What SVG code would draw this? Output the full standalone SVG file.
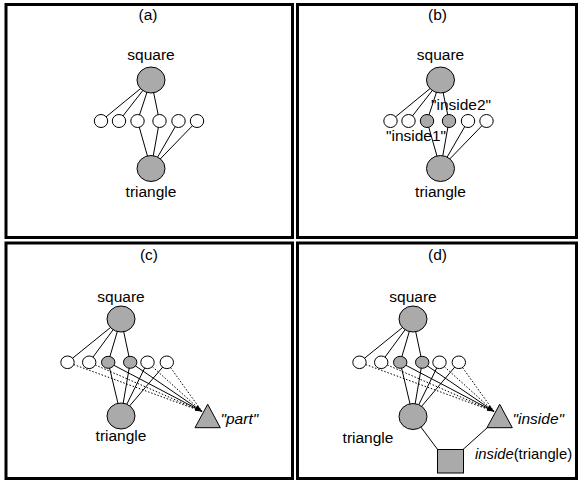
<svg xmlns="http://www.w3.org/2000/svg" width="579" height="480" viewBox="0 0 579 480">
<style>
.frame{fill:none;stroke:#000;stroke-width:3}
.big{fill:#aaaaaa;stroke:#000;stroke-width:1}
.sm{fill:#fff;stroke:#000;stroke-width:1}
.smg{fill:#aaaaaa;stroke:#000;stroke-width:1}
.ln{stroke:#000;stroke-width:1;fill:none}
.dt{stroke:#000;stroke-width:1;fill:none;stroke-dasharray:1.5 1.8}
text{font-family:"Liberation Sans",Arial,Helvetica,sans-serif;font-size:15.5px;fill:#000}
.c{text-anchor:middle}
.it{font-style:italic}
.fn{font-size:14.8px}
</style>
<defs>
<marker id="ah" viewBox="0 0 10 10" refX="10" refY="5" markerWidth="7" markerHeight="7" markerUnits="userSpaceOnUse" orient="auto">
<path d="M0,1 L10,5 L0,9 Z" fill="#000"/>
</marker>
</defs>
<rect width="579" height="480" fill="#fff"/>
<g id="frames">
<rect class="frame" x="6" y="4.5" width="286.5" height="233"/>
<rect class="frame" x="297.5" y="4.5" width="279" height="233"/>
<rect class="frame" x="6" y="243" width="286.5" height="235.5"/>
<rect class="frame" x="297.5" y="243" width="279" height="235.5"/>
</g>

<!-- Panel a -->
<g id="panel-a">
<text class="c" x="148" y="20">(a)</text>
<g id="a-connectors">
<line class="ln" x1="151" y1="80" x2="101" y2="121"/>
<line class="ln" x1="151" y1="80" x2="119" y2="121"/>
<line class="ln" x1="151" y1="80" x2="137.5" y2="121"/>
<line class="ln" x1="151" y1="80" x2="159.5" y2="121"/>
<line class="ln" x1="137.5" y1="121" x2="151" y2="168.5"/>
<line class="ln" x1="159.5" y1="121" x2="151" y2="168.5"/>
<line class="ln" x1="178.5" y1="121" x2="151" y2="168.5"/>
<line class="ln" x1="197" y1="121" x2="151" y2="168.5"/>
</g>
<g id="a-square"><ellipse class="big" cx="151" cy="80" rx="14" ry="13"/><text class="c" x="151" y="60">square</text></g>
<g id="a-triangle"><ellipse class="big" cx="151" cy="168.5" rx="14" ry="13"/><text class="c" x="151" y="197">triangle</text></g>
<g id="a-n1"><ellipse class="sm" cx="101" cy="121" rx="6.7" ry="6.5"/></g>
<g id="a-n2"><ellipse class="sm" cx="119" cy="121" rx="6.7" ry="6.5"/></g>
<g id="a-n3"><ellipse class="sm" cx="137.5" cy="121" rx="6.7" ry="6.5"/></g>
<g id="a-n4"><ellipse class="sm" cx="159.5" cy="121" rx="6.7" ry="6.5"/></g>
<g id="a-n5"><ellipse class="sm" cx="178.5" cy="121" rx="6.7" ry="6.5"/></g>
<g id="a-n6"><ellipse class="sm" cx="197" cy="121" rx="6.7" ry="6.5"/></g>
</g>

<!-- Panel b -->
<g id="panel-b">
<text class="c" x="437.5" y="20">(b)</text>
<g id="b-connectors">
<line class="ln" x1="440.5" y1="80" x2="390.5" y2="121"/>
<line class="ln" x1="440.5" y1="80" x2="408.5" y2="121"/>
<line class="ln" x1="440.5" y1="80" x2="427" y2="121"/>
<line class="ln" x1="440.5" y1="80" x2="449" y2="121"/>
<line class="ln" x1="427" y1="121" x2="440.5" y2="168.5"/>
<line class="ln" x1="449" y1="121" x2="440.5" y2="168.5"/>
<line class="ln" x1="468" y1="121" x2="440.5" y2="168.5"/>
<line class="ln" x1="486.5" y1="121" x2="440.5" y2="168.5"/>
</g>
<g id="b-square"><ellipse class="big" cx="440.5" cy="80" rx="14" ry="13"/><text class="c" x="440.5" y="60">square</text></g>
<g id="b-triangle"><ellipse class="big" cx="440.5" cy="168.5" rx="14" ry="13"/><text class="c" x="440.5" y="197">triangle</text></g>
<g id="b-n1"><ellipse class="sm" cx="390.5" cy="121" rx="6.7" ry="6.5"/></g>
<g id="b-n2"><ellipse class="sm" cx="408.5" cy="121" rx="6.7" ry="6.5"/></g>
<g id="b-n3"><ellipse class="smg" cx="427" cy="121" rx="6.7" ry="6.5"/></g>
<g id="b-n4"><ellipse class="smg" cx="449" cy="121" rx="6.7" ry="6.5"/></g>
<g id="b-n5"><ellipse class="sm" cx="468" cy="121" rx="6.7" ry="6.5"/></g>
<g id="b-n6"><ellipse class="sm" cx="486.5" cy="121" rx="6.7" ry="6.5"/></g>
<text class="c" x="461" y="110">"inside2"</text>
<text class="c" x="416" y="141">"inside1"</text>
</g>

<!-- Panel c -->
<g id="panel-c">
<text class="c" x="149" y="260">(c)</text>
<g id="c-connectors">
<line class="ln" x1="121" y1="319" x2="67.5" y2="362.3"/>
<line class="ln" x1="121" y1="319" x2="89.2" y2="362.3"/>
<line class="ln" x1="121" y1="319" x2="108.2" y2="362.3"/>
<line class="ln" x1="121" y1="319" x2="130.2" y2="362.3"/>
<line class="ln" x1="108.2" y1="362.3" x2="121" y2="416"/>
<line class="ln" x1="130.2" y1="362.3" x2="121" y2="416"/>
<line class="ln" x1="147.5" y1="362.3" x2="121" y2="416"/>
<line class="ln" x1="166.8" y1="362.3" x2="121" y2="416"/>
<line class="dt" x1="67.5" y1="362.3" x2="202" y2="411.5"/>
<line class="dt" x1="89.2" y1="362.3" x2="202" y2="411.5"/>
<line class="dt" x1="147.5" y1="362.3" x2="202" y2="411.5"/>
<line class="dt" x1="166.8" y1="362.3" x2="202" y2="411.5"/>
<line class="ln" x1="108.2" y1="362.3" x2="202" y2="411.5" marker-end="url(#ah)"/>
<line class="ln" x1="130.2" y1="362.3" x2="202" y2="411.5" marker-end="url(#ah)"/>
</g>
<g id="c-square"><ellipse class="big" cx="121" cy="319" rx="14" ry="13"/><text class="c" x="121" y="301.5">square</text></g>
<g id="c-triangle"><ellipse class="big" cx="121" cy="416" rx="14" ry="13"/><text class="c" x="121" y="441">triangle</text></g>
<g id="c-n1"><ellipse class="sm" cx="67.5" cy="362.3" rx="6.7" ry="6.3"/></g>
<g id="c-n2"><ellipse class="sm" cx="89.2" cy="362.3" rx="6.7" ry="6.3"/></g>
<g id="c-n3"><ellipse class="smg" cx="108.2" cy="362.3" rx="6.7" ry="6"/></g>
<g id="c-n4"><ellipse class="smg" cx="130.2" cy="362.3" rx="6.7" ry="6"/></g>
<g id="c-n5"><ellipse class="sm" cx="147.5" cy="362.3" rx="6.7" ry="6.3"/></g>
<g id="c-n6"><ellipse class="sm" cx="166.8" cy="362.3" rx="6.7" ry="6.3"/></g>
<g id="c-part"><polygon class="big" points="207.7,404.3 195,427.7 220.3,427.7"/><text class="it" x="220.5" y="424">"part"</text></g>
</g>

<!-- Panel d -->
<g id="panel-d">
<text class="c" x="437.5" y="260">(d)</text>
<g id="d-connectors">
<line class="ln" x1="413" y1="319" x2="359.5" y2="362.3"/>
<line class="ln" x1="413" y1="319" x2="381.2" y2="362.3"/>
<line class="ln" x1="413" y1="319" x2="400.2" y2="362.3"/>
<line class="ln" x1="413" y1="319" x2="422.2" y2="362.3"/>
<line class="ln" x1="400.2" y1="362.3" x2="413" y2="416.5"/>
<line class="ln" x1="422.2" y1="362.3" x2="413" y2="416.5"/>
<line class="ln" x1="439.5" y1="362.3" x2="413" y2="416.5"/>
<line class="ln" x1="458.8" y1="362.3" x2="413" y2="416.5"/>
<line class="dt" x1="359.5" y1="362.3" x2="494" y2="411.5"/>
<line class="dt" x1="381.2" y1="362.3" x2="494" y2="411.5"/>
<line class="dt" x1="439.5" y1="362.3" x2="494" y2="411.5"/>
<line class="dt" x1="458.8" y1="362.3" x2="494" y2="411.5"/>
<line class="ln" x1="400.2" y1="362.3" x2="494" y2="411.5" marker-end="url(#ah)"/>
<line class="ln" x1="422.2" y1="362.3" x2="494" y2="411.5" marker-end="url(#ah)"/>
<line class="ln" x1="413" y1="416.5" x2="438" y2="450"/>
<line class="ln" x1="463" y1="449.5" x2="487.5" y2="427.5"/>
</g>
<g id="d-square"><ellipse class="big" cx="413" cy="319" rx="14" ry="13"/><text class="c" x="413" y="301.5">square</text></g>
<g id="d-triangle"><ellipse class="big" cx="413" cy="416.5" rx="14" ry="13"/><text class="c" x="368" y="443">triangle</text></g>
<g id="d-n1"><ellipse class="sm" cx="359.5" cy="362.3" rx="6.7" ry="6.3"/></g>
<g id="d-n2"><ellipse class="sm" cx="381.2" cy="362.3" rx="6.7" ry="6.3"/></g>
<g id="d-n3"><ellipse class="smg" cx="400.2" cy="362.3" rx="6.7" ry="6"/></g>
<g id="d-n4"><ellipse class="smg" cx="422.2" cy="362.3" rx="6.7" ry="6"/></g>
<g id="d-n5"><ellipse class="sm" cx="439.5" cy="362.3" rx="6.7" ry="6.3"/></g>
<g id="d-n6"><ellipse class="sm" cx="458.8" cy="362.3" rx="6.7" ry="6.3"/></g>
<g id="d-inside"><polygon class="big" points="499.7,404.3 487,427.7 512.3,427.7"/><text class="it" x="512.5" y="424">"inside"</text></g>
<g id="d-box"><rect class="big" x="437.5" y="449.5" width="26" height="23.5"/><text class="fn" x="475" y="458.5"><tspan class="it">inside</tspan>(triangle)</text></g>
</g>
</svg>
